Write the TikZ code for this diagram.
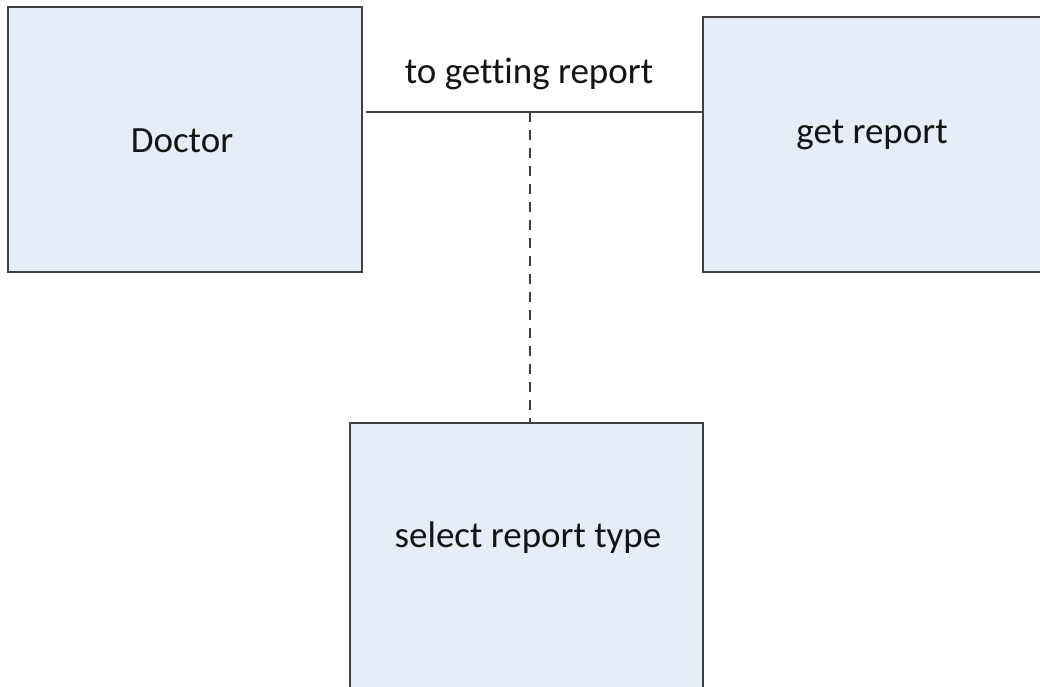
\documentclass[tikz,border=0pt]{standalone}
\usepackage{fontspec}
\setmainfont{Carlito}[Ligatures=NoCommon]
\definecolor{boxfill}{RGB}{230,237,247}
\definecolor{edge}{RGB}{64,64,64}
\definecolor{txt}{RGB}{20,20,20}
\begin{document}
\begin{tikzpicture}[x=1pt,y=-1pt,
  boxst/.style={draw=edge, fill=boxfill, line width=2pt, rectangle, inner sep=0pt},
  lbl/.style={anchor=base, inner sep=0pt, text=txt, font=\fontsize{37}{44}\selectfont},
  conn/.style={draw=edge, line width=2pt}]
\useasboundingbox (0,0) rectangle (1040,686);
\clip (0,0) rectangle (1040,686);
\node[boxst, minimum width=354pt, minimum height=265pt] (doctor) at (185,139.5) {};
\node[boxst, minimum width=338pt, minimum height=255pt] (getreport) at (872,144.5) {};
\node[boxst, minimum width=353pt, minimum height=270pt] (select) at (526.5,558) {};
\node[lbl] (tdoctor) at (182,152) {Doctor};
\node[lbl] (tget) at (872,143) {get report};
\node[lbl] (tselect) at (528,547) {select report type};
\node[lbl] (tconn) at (529,83) {to getting report};
\coordinate (mid) at (530,112);
\coordinate (lstart) at (366,112);
\draw[conn] (lstart) -- (getreport.west |- mid);
\draw[conn, dash pattern=on 10pt off 8pt] (mid) -- (mid |- select.north);
\end{tikzpicture}
\end{document}
